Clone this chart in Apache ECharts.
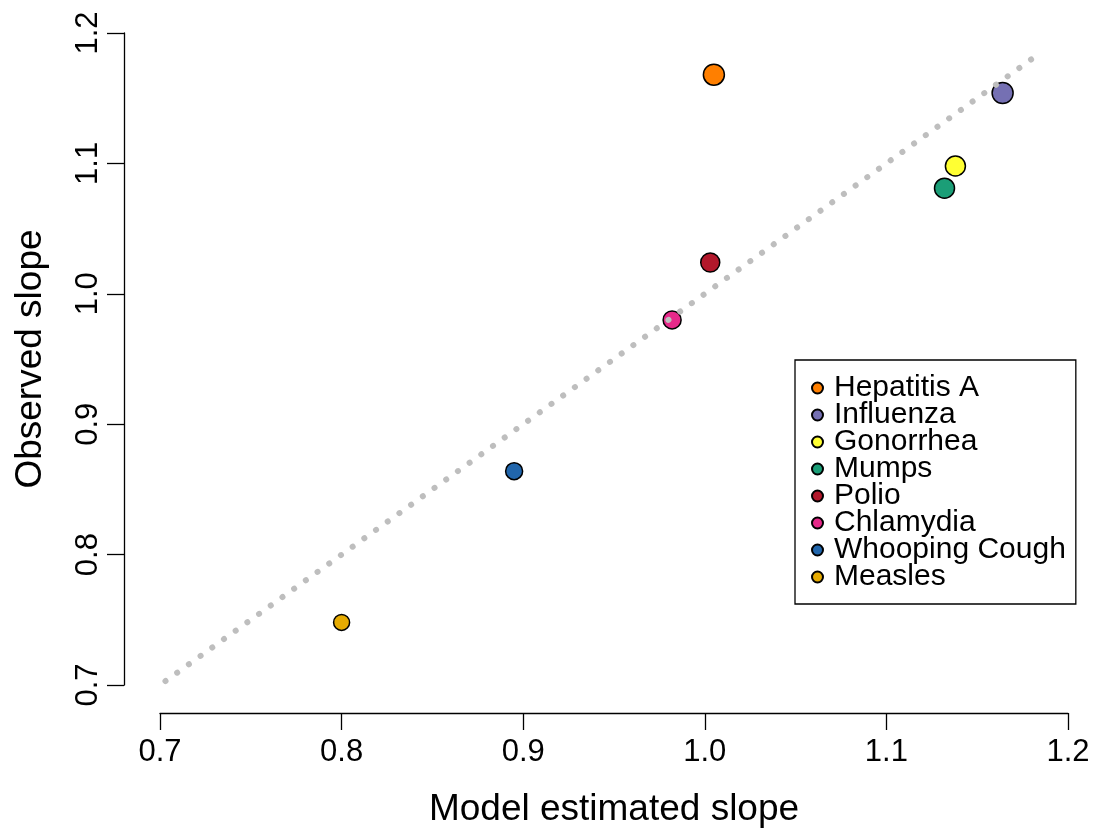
<!DOCTYPE html>
<html>
<head>
<meta charset="utf-8">
<script src="https://cdn.jsdelivr.net/npm/echarts@6/dist/echarts.min.js"></script>
<style>
  html, body { margin: 0; padding: 0; background: #fff; }
  #slopeChart { width: 1099px; height: 833px; }
</style>
</head>
<body>
<div id="slopeChart"></div>
<script>
  // disease names, in legend order
  var diseases = ['Hepatitis A', 'Influenza', 'Gonorrhea', 'Mumps', 'Polio', 'Chlamydia', 'Whooping Cough', 'Measles'];
  var modelSlope = [1.005, 1.164, 1.138, 1.132, 1.003, 0.982, 0.895, 0.800];
  var observedSlope = [1.168, 1.154, 1.098, 1.081, 1.024, 0.980, 0.864, 0.748];
  var pointSize = [21, 21, 20, 20, 19, 18, 17, 16];
  var colors = ['#FF7F00', '#7570B3', '#FFFF33', '#1B9E77', '#B2182B', '#E7298A', '#2166AC', '#E6AB02'];
  // y = x reference line
  var refLine = [0.703, 1.181];
  var ticks = [0.7, 0.8, 0.9, 1.0, 1.1, 1.2];

  var font = 'Liberation Sans, Helvetica, Arial, sans-serif';
  var chart = echarts.init(document.getElementById('slopeChart'));

  var series = [];
  for (var i = 0; i < diseases.length; i++) {
    series.push({
      name: diseases[i],
      type: 'scatter',
      symbol: 'circle',
      symbolSize: pointSize[i],
      itemStyle: {
        color: colors[i],
        borderColor: '#000',
        borderWidth: 1.5,
        opacity: 1
      },
      z: 2,
      data: [[modelSlope[i], observedSlope[i]]]
    });
  }
  series.push({
    name: 'ref',
    type: 'line',
    symbol: 'none',
    silent: true,
    z: 5,
    lineStyle: {
      color: '#BEBEBE',
      width: 6,
      cap: 'round',
      type: [0.1, 14.3]
    },
    data: refLine.map(function (v) { return [v, v]; })
  });

  chart.setOption({
    animation: false,
    backgroundColor: '#fff',
    grid: {
      left: 160,
      right: 31,
      top: 33,
      bottom: 147
    },
    legend: {
      data: diseases,
      orient: 'vertical',
      left: 795,
      top: 360,
      width: 280,
      padding: [13, 10, 12, 16],
      borderColor: '#000',
      borderWidth: 1.3,
      itemGap: -3,
      itemWidth: 11,
      itemHeight: 11,
      icon: 'circle',
      textStyle: {
        fontFamily: font,
        fontSize: 30,
        color: '#000',
        padding: [0, 0, 0, 6]
      }
    },
    xAxis: {
      type: 'value',
      min: ticks[0],
      max: ticks[ticks.length - 1],
      interval: 0.1,
      offset: 28,
      name: 'Model estimated slope',
      nameLocation: 'middle',
      nameGap: 78,
      nameTextStyle: { fontFamily: font, fontSize: 37, color: '#000' },
      splitLine: { show: false },
      axisLine: { show: true, lineStyle: { color: '#000', width: 1.3 } },
      axisTick: { show: true, length: 17, lineStyle: { color: '#000', width: 1.3 } },
      axisLabel: {
        fontFamily: font,
        fontSize: 31,
        color: '#000',
        margin: 24,
        formatter: function (v) { return v.toFixed(1); }
      }
    },
    yAxis: {
      type: 'value',
      min: ticks[0],
      max: ticks[ticks.length - 1],
      interval: 0.1,
      offset: 36,
      name: 'Observed slope',
      nameLocation: 'middle',
      nameGap: 75,
      nameTextStyle: { fontFamily: font, fontSize: 37, color: '#000' },
      splitLine: { show: false },
      axisLine: { show: true, lineStyle: { color: '#000', width: 1.3 } },
      axisTick: { show: true, length: 17, lineStyle: { color: '#000', width: 1.3 } },
      axisLabel: {
        fontFamily: font,
        fontSize: 31,
        color: '#000',
        rotate: 90,
        margin: 20,
        formatter: function (v) { return v.toFixed(1); }
      }
    },
    series: series
  });
</script>
</body>
</html>
